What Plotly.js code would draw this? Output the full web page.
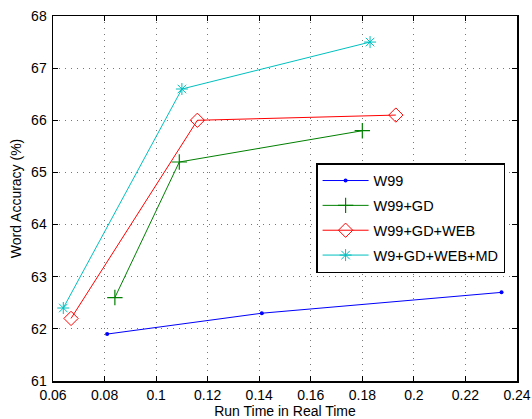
<!DOCTYPE html>
<html>
<head>
<meta charset="utf-8">
<script src="https://cdn.plot.ly/plotly-3.0.1.min.js"></script>
<style>html,body{margin:0;padding:0;background:#fff;}#chart{width:532px;height:419px;}</style>
</head>
<body>
<div id="chart"></div>
<script>
const seriesNames = ["W99", "W99+GD", "W99+GD+WEB", "W9+GD+WEB+MD"];
const xW99 = [0.081, 0.141, 0.234];
const yW99 = [61.9, 62.3, 62.7];
const xGD = [0.084, 0.109, 0.180];
const yGD = [62.6, 65.2, 65.8];
const xWEB = [0.067, 0.116, 0.193];
const yWEB = [62.2, 66.0, 66.1];
const xMD = [0.064, 0.110, 0.183];
const yMD = [62.4, 66.6, 67.5];
const xTicks = [0.06, 0.08, 0.1, 0.12, 0.14, 0.16, 0.18, 0.2, 0.22, 0.24];
const xTickText = ["0.06", "0.08", "0.1", "0.12", "0.14", "0.16", "0.18", "0.2", "0.22", "0.24"];
const yTicks = [61, 62, 63, 64, 65, 66, 67, 68];

const font = "Liberation Sans, Arial, Helvetica, sans-serif";
const traces = [
  {x: xW99, y: yW99, name: seriesNames[0], legendgroup: "a", mode: "lines+markers",
   line: {color: "#0000ff", width: 1}, marker: {symbol: "circle", size: 4, color: "#0000ff"}},
  {x: xGD, y: yGD, name: seriesNames[1], legendgroup: "b", mode: "lines+markers",
   line: {color: "#008000", width: 1}, marker: {symbol: "cross-thin-open", size: 11, color: "#008000", line: {width: 1.2, color: "#008000"}}},
  {x: xWEB, y: yWEB, name: seriesNames[2], legendgroup: "c", mode: "lines+markers",
   line: {color: "#ff0000", width: 1}, marker: {symbol: "diamond-open", size: 11, color: "#ff0000", line: {width: 1, color: "#ff0000"}}},
  {x: xMD, y: yMD, name: seriesNames[3], legendgroup: "d", mode: "lines+markers",
   line: {color: "#00bfbf", width: 1}, marker: {symbol: "asterisk-open", size: 10, color: "#00bfbf", line: {width: 1, color: "#00bfbf"}}}
];

const layout = {
  width: 532, height: 419,
  margin: {l: 53, r: 15, t: 16, b: 38, pad: 0},
  paper_bgcolor: "#fff", plot_bgcolor: "#fff",
  font: {family: font, size: 14, color: "#000"},
  showlegend: true,
  legend: {x: 0.567, y: 0.597, xanchor: "left", yanchor: "top",
    bordercolor: "#000", borderwidth: 1.5, bgcolor: "#fff",
    font: {family: font, size: 14.5, color: "#000"},
    itemwidth: 46,
    traceorder: "grouped", tracegroupgap: 3},
  xaxis: {range: [0.06, 0.24], tickvals: xTicks, ticktext: xTickText,
    showline: true, linecolor: "#000", linewidth: 1.5, mirror: "ticks",
    ticks: "inside", ticklen: 5, tickcolor: "#000", ticklabelstandoff: 1,
    showgrid: true, gridcolor: "#777", griddash: "1px,5px", gridwidth: 1, zeroline: false,
    tickfont: {family: font, size: 14, color: "#000"},
    title: {text: "Run Time in Real Time", font: {family: font, size: 14, color: "#000"}, standoff: 4}},
  yaxis: {range: [61, 68], tickvals: yTicks,
    showline: true, linecolor: "#000", linewidth: 1.5, mirror: "ticks",
    ticks: "inside", ticklen: 5, tickcolor: "#000", ticklabelstandoff: 2,
    showgrid: true, gridcolor: "#777", griddash: "1px,5px", gridwidth: 1, zeroline: false,
    tickfont: {family: font, size: 14, color: "#000"},
    title: {text: "Word Accuracy (%)", font: {family: font, size: 14, color: "#000"}, standoff: 6}}
};

Plotly.newPlot("chart", traces, layout, {staticPlot: true, displayModeBar: false});
</script>
</body>
</html>
